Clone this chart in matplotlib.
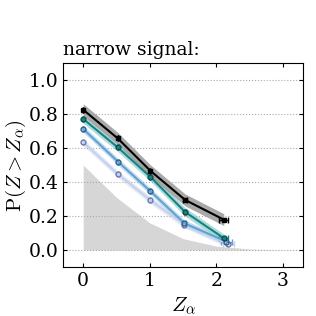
import numpy as np
import matplotlib.pyplot as plt

plt.rcParams['font.family'] = 'DejaVu Serif'
plt.rcParams['mathtext.fontset'] = 'cm'

# null distribution (gray area)
z_null = [0.0, 0.5, 1.0, 1.5, 2.0, 2.5, 3.0, 3.3]
p_null = [0.5, 0.31, 0.16, 0.067, 0.023, 0.006, 0.0013, 0.0005]

# measured curves
z_black = [0.0, 0.52, 1.01, 1.53, 2.11]
p_black = [0.826, 0.657, 0.466, 0.295, 0.179]
xerr_black = [0.0, 0.0, 0.0, 0.03, 0.07]

z_teal = [0.0, 0.52, 1.01, 1.53, 2.11]
p_teal = [0.772, 0.604, 0.43, 0.224, 0.07]
xerr_teal = [0.0, 0.0, 0.0, 0.02, 0.07]

z_blue = [0.0, 0.52, 1.01, 1.52, 2.15]
p_blue = [0.713, 0.521, 0.346, 0.157, 0.05]
xerr_blue = [0.0, 0.0, 0.0, 0.02, 0.08]

z_light = [0.0, 0.52, 1.01, 1.52, 2.18]
p_light = [0.634, 0.447, 0.293, 0.15, 0.035]
xerr_light = [0.0, 0.0, 0.0, 0.02, 0.08]

fig = plt.figure(figsize=(3.16, 3.16), dpi=100)
ax = fig.add_axes([0.2, 0.155, 0.759, 0.645])

ax.fill_between(z_null, 0, p_null, color='#d6d6d6', lw=0)

curves = [
    (z_light, p_light, xerr_light, '#c5d0ea', '#dfe6f5', 0.02, 'o', 'none', '#6878a8', 3.5),
    (z_blue, p_blue, xerr_blue, '#5fa3d3', '#bcd8ee', 0.02, 'o', 'none', '#2f5f8f', 3.5),
    (z_teal, p_teal, xerr_teal, '#128484', '#a4d4d4', 0.025, 'o', '#128484', '#0c4c4c', 3.5),
    (z_black, p_black, xerr_black, 'black', '#9a9a9a', 0.035, 's', 'black', 'black', 3),
]
for z, p, xe, c, bc, band, m, mfc, mec, ms in curves:
    p = np.array(p)
    ax.fill_between(z, p - band, p + band, color=bc, lw=0, alpha=0.85)
    ax.errorbar(z, p, xerr=xe, color=c, lw=1.5, marker=m, ms=ms,
                mfc=mfc, mec=mec, mew=1, capsize=2, elinewidth=1)

ax.set_xlim(-0.3, 3.3)
ax.set_ylim(-0.1, 1.1)
ax.set_xticks([0, 1, 2, 3])
ax.set_yticks([0.0, 0.2, 0.4, 0.6, 0.8, 1.0])
ax.yaxis.grid(True, ls=':', color='#aaaaaa', lw=0.8)
ax.tick_params(direction='in', top=True, right=True, labelsize=13.5, length=3)
ax.set_xlabel(r'$Z_\alpha$', fontsize=15)
ax.set_ylabel(r'$\mathrm{P}(Z > Z_\alpha)$', fontsize=15, labelpad=0)
ax.set_title('narrow signal:', loc='left', fontsize=13.5)

fig.savefig('out.png', dpi=100)
